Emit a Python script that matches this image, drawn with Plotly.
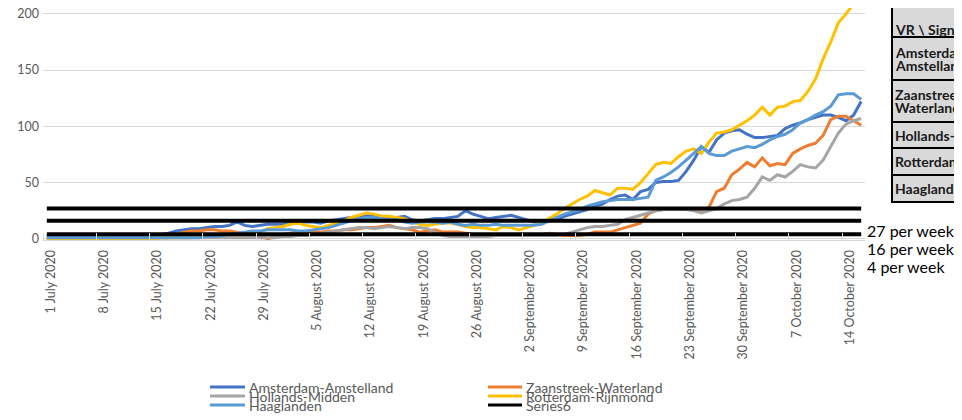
import plotly.graph_objects as go
import pandas as pd

dates = pd.date_range("2020-07-01", periods=108, freq="D")

amsterdam = [3,3,3,3,3,3,3,3,3,3, 3,3,3,3,3,4,5,7,8,9,
             9,10,11,11,12,15,12,11,12,13, 13,13,14,14,15,15,14,16,17,18,
             19,20,21,21,20,19,19,20,17,16, 17,18,18,19,20,25,22,20,18,19,
             20,21,19,17,15,15,16,17,20,22, 24,26,29,31,35,38,39,35,42,44,
             50,51,51,52,60,70,82,77,88,94, 96,97,93,90,90,91,92,98,101,103,
             106,108,110,110,108,105,110,122]
zaanstreek = [0,0,0,0,0,0,0,0,0,0, 0,0,0,0,1,1,1,3,6,7,
              7,8,8,7,7,6,5,5,3,0, 2,4,5,6,6,6,6,7,7,8,
              8,9,10,10,11,12,10,9,8,6, 7,8,6,6,6,5,4,3,3,3,
              3,3,3,3,3,4,5,4,3,3, 3,4,6,6,6,8,10,12,14,22,
              25,26,26,26,26,27,26,28,42,45, 57,62,68,64,72,65,67,66,76,80,
              83,85,92,106,109,109,105,101]
hollands = [1,1,1,1,1,1,1,1,1,1, 1,1,1,1,1,1,1,1,1,1,
            1,1,1,1,1,1,1,1,1,1, 1,2,2,3,3,4,5,6,7,8,
            9,10,10,9,10,11,10,9,10,10, 9,6,3,2,2,2,2,2,2,3,
            3,3,3,3,3,3,3,3,4,6, 8,10,11,11,12,13,17,19,21,23,
            25,26,26,26,26,25,23,25,27,31, 34,35,37,45,55,52,57,55,60,66,
            64,63,70,82,94,102,105,107]
rotterdam = [0,0,0,0,0,0,0,0,0,0, 0,0,0,0,0,1,1,1,1,1,
             2,3,3,4,4,4,4,5,6,9, 10,11,13,14,12,11,10,12,14,16,
             19,21,23,22,20,20,19,18,15,13, 12,13,14,14,13,11,10,10,9,8,
             11,10,8,10,12,14,18,22,27,31, 35,38,43,41,39,45,45,44,50,58,
             66,68,67,73,78,80,76,86,94,95, 97,101,105,110,117,110,117,118,122,123,
             131,142,160,175,192,200,209,211]
haaglanden = [1,1,1,1,1,1,1,1,1,1, 1,1,1,1,1,1,1,1,1,1,
              1,2,2,3,4,5,6,7,7,8, 8,8,8,7,7,8,9,10,12,14,
              16,18,19,19,18,17,17,15,14,15, 15,15,14,15,13,12,13,12,12,13,
              12,12,12,12,12,13,16,19,22,24, 26,29,31,33,34,35,35,35,36,37,
              52,55,59,64,70,76,82,76,74,74, 78,80,82,81,84,88,91,93,97,103,
              106,110,113,118,128,129,129,124]
thresholds = [27, 16, 4]
threshold_labels = ["27 per week", "16 per week", "4 per week"]

series_names = ["Amsterdam-Amstelland", "Zaanstreek-Waterland", "Hollands-Midden",
                "Rotterdam-Rijnmond", "Haaglanden", "Series6"]
series_values = [amsterdam, zaanstreek, hollands, rotterdam, haaglanden]
colors = ["#4472C4", "#ED7D31", "#A5A5A5", "#FFC000", "#5B9BD5", "#000000"]

tick_labels = ["1 July 2020", "8 July 2020", "15 July 2020", "22 July 2020", "29 July 2020",
               "5 August 2020", "12 August 2020", "19 August 2020", "26 August 2020",
               "2 September 2020", "9 September 2020", "16 September 2020",
               "23 September 2020", "30 September 2020", "7 October 2020", "14 October 2020"]

table_rows = [["VR \\ Signaalwaarde"], ["Amsterdam-", "Amstelland"], ["Zaanstreek-", "Waterland"],
              ["Hollands-Midden"], ["Rotterdam-Rijnmond"], ["Haaglanden"]]

FONT = "Lato"
GRAY = "#595959"

# The page body adds an 8px offset; layout numbers below are in figure pixels.
OFF = 8
L, R, T, B = 35, 857, 0, 232

def px_x(page_px):
    return (page_px - OFF - L) / (R - L)

def px_y(page_py):
    return (B - (page_py - OFF)) / (B - T)

fig = go.Figure()
for name, vals, col in zip(series_names[:5], series_values, colors[:5]):
    fig.add_trace(go.Scatter(x=dates, y=vals, mode="lines", name=name,
                             line=dict(color=col, width=3), showlegend=False))

bx, by = [], []
for t in thresholds:
    bx += [dates[0], dates[-1], None]
    by += [t, t, None]
fig.add_trace(go.Scatter(x=bx, y=by, mode="lines", name="Series6",
                         line=dict(color="#000000", width=4), showlegend=False))

shapes = []
annotations = []

# threshold labels
for i, lab in enumerate(threshold_labels):
    annotations.append(dict(x=px_x(865), y=px_y(230 + 18 * i), xref="paper", yref="paper",
                            text=lab, showarrow=False, xanchor="left", yanchor="middle",
                            font=dict(family=FONT, size=16, color="#000000")))

# manual legend
leg_cols = [(210, 245, 247), (488, 522, 524)]
leg_rows = [387, 396, 405]
for i, (name, col) in enumerate(zip(series_names, colors)):
    c = i % 2
    r = i // 2
    x0, x1, xt = leg_cols[c]
    yy = leg_rows[r]
    shapes.append(dict(type="line", xref="paper", yref="paper",
                       x0=px_x(x0), x1=px_x(x1), y0=px_y(yy), y1=px_y(yy),
                       line=dict(color=col, width=3)))
    annotations.append(dict(x=px_x(xt), y=px_y(yy), xref="paper", yref="paper",
                            text=name, showarrow=False, xanchor="left", yanchor="middle",
                            font=dict(family=FONT, size=14, color=GRAY)))

# partial table on the right
row_edges = [0, 37, 80, 122, 148, 175, 202]
for i, lines in enumerate(table_rows):
    y0p, y1p = row_edges[i], row_edges[i + 1]
    shapes.append(dict(type="rect", xref="paper", yref="paper",
                       x0=px_x(892), x1=px_x(1000), y0=px_y(y1p), y1=px_y(max(y0p, OFF - 2)),
                       fillcolor="#d9d9d9", line=dict(color="#000000", width=2), layer="above"))
    n = len(lines)
    if i == 0:
        centers = [29]
    else:
        mid = (y0p + y1p) / 2
        centers = [mid - 6.5 * (n - 1) + 13 * k for k in range(n)]
    for ln, cy in zip(lines, centers):
        annotations.append(dict(x=px_x(893), y=px_y(cy), xref="paper", yref="paper",
                                text="<b>%s</b>" % ln, showarrow=False, xanchor="left",
                                yanchor="middle",
                                font=dict(family=FONT, size=14, color="#1a1a1a")))

fig.update_layout(
    width=962, height=420,
    margin=dict(l=L, r=962 - R, t=T, b=420 - B, autoexpand=False),
    paper_bgcolor="white", plot_bgcolor="white",
    shapes=shapes, annotations=annotations,
    showlegend=False,
)
half_day = pd.Timedelta(hours=12)
label_pos = [d + half_day for d in dates[::7]]
mark_pos = [d - half_day for d in dates[::7]]
fig.update_xaxes(
    range=[dates[0] - half_day, dates[-1] + half_day],
    tickmode="array", tickvals=label_pos, ticktext=tick_labels, tickangle=-90,
    tickfont=dict(family=FONT, size=12.5, color=GRAY),
    showgrid=False, showline=True, linecolor="#d9d9d9", linewidth=1,
    ticks="", zeroline=False,
    minor=dict(tickmode="array", tickvals=mark_pos, ticks="inside", ticklen=7,
               tickcolor="#d9d9d9", tickwidth=1, showgrid=False),
    ticklabelstandoff=4, automargin=False,
)
fig.update_yaxes(
    range=[-1, 205.2], tickvals=[0, 50, 100, 150, 200],
    tickfont=dict(family=FONT, size=12.5, color=GRAY),
    showgrid=True, gridcolor="#d9d9d9", gridwidth=1, zeroline=False,
    ticklabelstandoff=3, automargin=False, ticklabeloverflow="allow",
)

fig.write_html("out.html")
